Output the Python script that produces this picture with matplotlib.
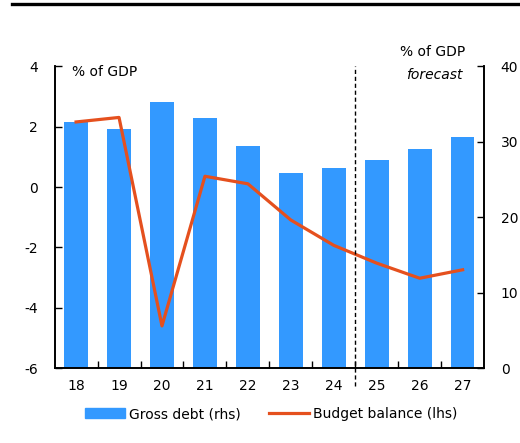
import matplotlib
matplotlib.use("Agg")
import matplotlib.pyplot as plt
import matplotlib.lines as mlines
from matplotlib.patches import Patch
import numpy as np

years = ["18", "19", "20", "21", "22", "23", "24", "25", "26", "27"]
gross_debt = [32.7, 31.7, 35.3, 33.1, 29.4, 25.9, 26.5, 27.6, 29.0, 30.6]
budget_balance = [2.16, 2.31, -4.6, 0.36, 0.11, -1.09, -1.93, -2.52, -3.02, -2.74]

bar_color = "#3399FF"
line_color = "#E5501E"

plt.rcParams['font.family'] = ['DejaVu Sans']
plt.rcParams['font.size'] = 10

fig = plt.figure(figsize=(5.2, 4.43), dpi=100)
ax = fig.add_axes([0.105, 0.169, 0.826, 0.681])
ax2 = ax.twinx()

x = np.arange(len(years))
ax2.bar(x, gross_debt, width=0.55, color=bar_color, zorder=1)
ax.plot(x, budget_balance, color=line_color, lw=2.3, zorder=3)

ax.set_zorder(ax2.get_zorder() + 1)
ax.patch.set_visible(False)

ax.set_xlim(-0.5, len(years) - 0.5)
ax.set_ylim(-6, 4)
ax.set_yticks([-6, -4, -2, 0, 2, 4])
ax.set_yticklabels(["-6", "-4", "-2", "0", "2", "4"])
ax2.set_ylim(0, 40)
ax2.set_yticks([0, 10, 20, 30, 40])

ax.set_xticks(x)
ax.set_xticklabels(years)
ax.set_xticks(np.arange(-0.5, len(years), 1.0)[1:-1], minor=True)
ax.tick_params(axis='x', which='major', length=0, pad=8)
ax.tick_params(axis='x', which='minor', direction='in', length=5, width=1)
ax.tick_params(axis='y', direction='in', length=5, width=1, pad=12)
ax2.tick_params(axis='y', direction='in', length=5, width=1, pad=12)

for a in (ax, ax2):
    a.spines['top'].set_visible(False)
    for s in ('left', 'right', 'bottom'):
        a.spines[s].set_linewidth(1.2)

# forecast divider
ax.plot([6.5, 6.5], [-0.06, 1.0], transform=ax.get_xaxis_transform(),
        color='black', lw=1, ls=(0, (3, 2)), clip_on=False, zorder=4)

ax.text(0.04, 0.982, "% of GDP", transform=ax.transAxes, ha='left', va='center', fontsize=10)
fig.text(0.832, 1 - 52 / 443, "% of GDP", ha='center', va='center', fontsize=10)
fig.text(0.835, 1 - 75 / 443, "forecast", ha='center', va='center', fontsize=10, style='italic')

# top rule
fig.add_artist(mlines.Line2D([12 / 520, 1.0], [1 - 3.5 / 443, 1 - 3.5 / 443],
                             color='black', lw=2.4, transform=fig.transFigure))

handles = [Patch(color=bar_color, label="Gross debt (rhs)"),
           mlines.Line2D([], [], color=line_color, lw=2.3, label="Budget balance (lhs)")]
fig.legend(handles=handles, loc='center', bbox_to_anchor=(0.522, 1 - 414 / 443),
           ncol=2, frameon=False, handlelength=2.9, handleheight=0.8,
           handletextpad=0.3, columnspacing=2.0, fontsize=10)

fig.savefig("out.png", dpi=100)
